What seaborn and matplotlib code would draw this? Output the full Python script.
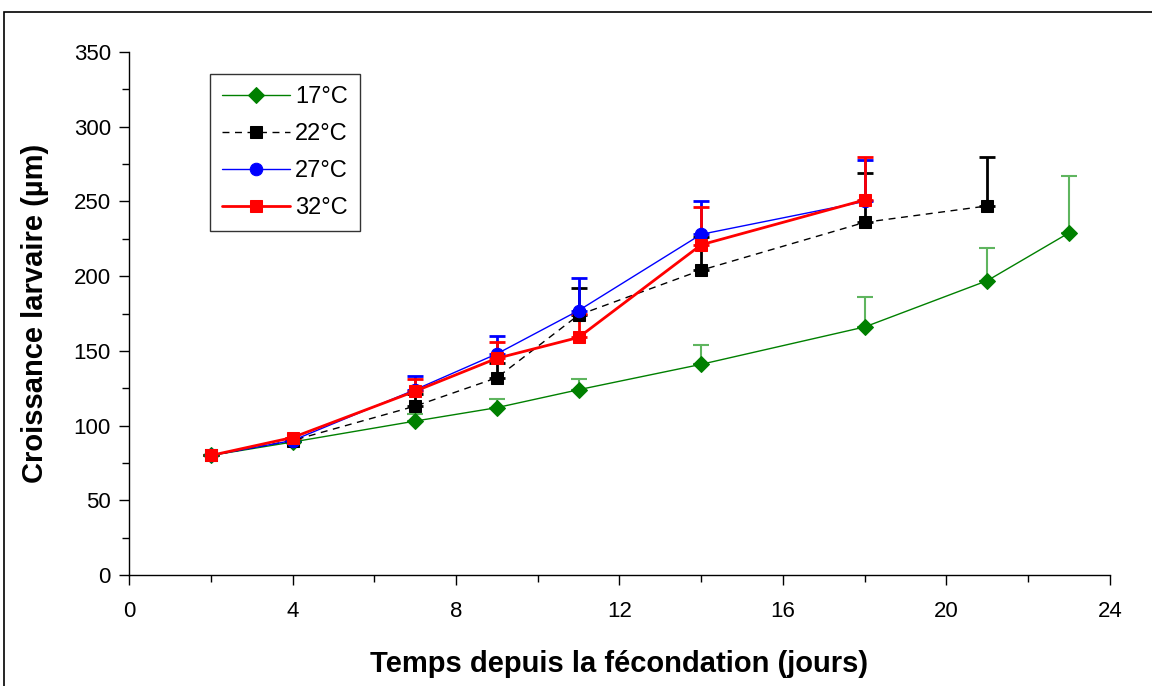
import matplotlib
matplotlib.use("Agg")
import matplotlib.pyplot as plt
import seaborn as sns
import pandas as pd
from matplotlib.patches import Rectangle
from matplotlib.ticker import MultipleLocator

sns.set_style("white")
plt.rcParams['font.family'] = ['Liberation Sans', 'DejaVu Sans']
plt.rcParams['text.color'] = 'black'
plt.rcParams['axes.labelcolor'] = 'black'
plt.rcParams['xtick.color'] = 'black'
plt.rcParams['ytick.color'] = 'black'

days_17 = [2, 4, 7, 9, 11, 14, 18, 21, 23]
vals_17 = [80, 89, 103, 112, 124, 141, 166, 197, 229]
err_17 = [0, 0, 5, 6, 7.5, 13, 20, 22, 38]

days_22 = [2, 4, 7, 9, 11, 14, 18, 21]
vals_22 = [80, 90, 113, 132, 174, 204, 236, 247]
err_22 = [0, 0, 8, 10, 18, 22, 33, 33]

days_27 = [2, 4, 7, 9, 11, 14, 18]
vals_27 = [80, 90, 124, 148, 177, 228, 250]
err_27 = [0, 0, 9, 12, 22, 22, 28]

days_32 = [2, 4, 7, 9, 11, 14, 18]
vals_32 = [80, 92, 123, 145, 159, 221, 251]
err_32 = [0, 0, 8, 11, 16, 25, 29]

labels = ["17°C", "22°C", "27°C", "32°C"]

fig = plt.figure(figsize=(11.52, 6.86), dpi=100)
ax = fig.add_axes([0.112, 0.1618, 0.8515, 0.7624])

series = [
    (days_17, vals_17, err_17, labels[0], "#008000", "-", 1.0, "D", 8, "#5fb55f"),
    (days_22, vals_22, err_22, labels[1], "black", (0, (5, 4)), 1.0, "s", 8, "black"),
    (days_27, vals_27, err_27, labels[2], "#0000ff", "-", 1.0, "o", 9, "#0000ff"),
    (days_32, vals_32, err_32, labels[3], "#ff0000", "-", 2.0, "s", 9, "#ff0000"),
]

for d, v, e, lab, col, ls, lw, mk, ms, ecol in series:
    thin = col == "#008000"
    ax.errorbar(d, v, yerr=[[0] * len(e), e], fmt="none", ecolor=ecol,
                elinewidth=1.5 if thin else 2, capsize=6, capthick=1.5 if thin else 2, zorder=2)
    df = pd.DataFrame({"x": d, "y": v})
    sns.lineplot(data=df, x="x", y="y", ax=ax, color=col, linestyle=ls, linewidth=lw,
                 marker=mk, markersize=ms, markeredgecolor=col, markerfacecolor=col,
                 label=lab, zorder=3)

ax.set_xlim(0, 24)
ax.set_ylim(0, 350)
ax.xaxis.set_major_locator(MultipleLocator(4))
ax.xaxis.set_minor_locator(MultipleLocator(2))
ax.yaxis.set_major_locator(MultipleLocator(50))
ax.yaxis.set_minor_locator(MultipleLocator(25))
ax.tick_params(axis="both", which="major", direction="out", length=7, width=1,
               labelsize=16, color="black", labelcolor="black", left=True, bottom=True)
ax.tick_params(axis="both", which="minor", direction="out", length=5, width=1,
               color="black", left=True, bottom=True)
ax.tick_params(axis="x", which="major", pad=12)
ax.tick_params(axis="y", which="major", pad=6)
for s in ["top", "right"]:
    ax.spines[s].set_visible(False)
for s in ["left", "bottom"]:
    ax.spines[s].set_color("black")
    ax.spines[s].set_linewidth(1)

ax.set_xlabel("Temps depuis la fécondation (jours)", fontsize=21, fontweight="bold",
              labelpad=20, color="black")
ax.set_ylabel("Croissance larvaire (µm)", fontsize=21, fontweight="bold",
              labelpad=18, color="black")

leg = ax.legend(loc="upper left", bbox_to_anchor=(0.0826, 0.958), borderaxespad=0,
                fontsize=17, frameon=True, fancybox=False, edgecolor="black",
                handlelength=2.9, labelspacing=0.64, borderpad=0.5, handletextpad=0.2,
                labelcolor="black")
leg.get_frame().set_linewidth(1)

fig.patches.append(Rectangle((0.0035, -0.05), 1.1, 0.05 + 1 - 12 / 686, transform=fig.transFigure,
                             fill=False, edgecolor="black", linewidth=1.2))

fig.savefig("out.png", dpi=100)
